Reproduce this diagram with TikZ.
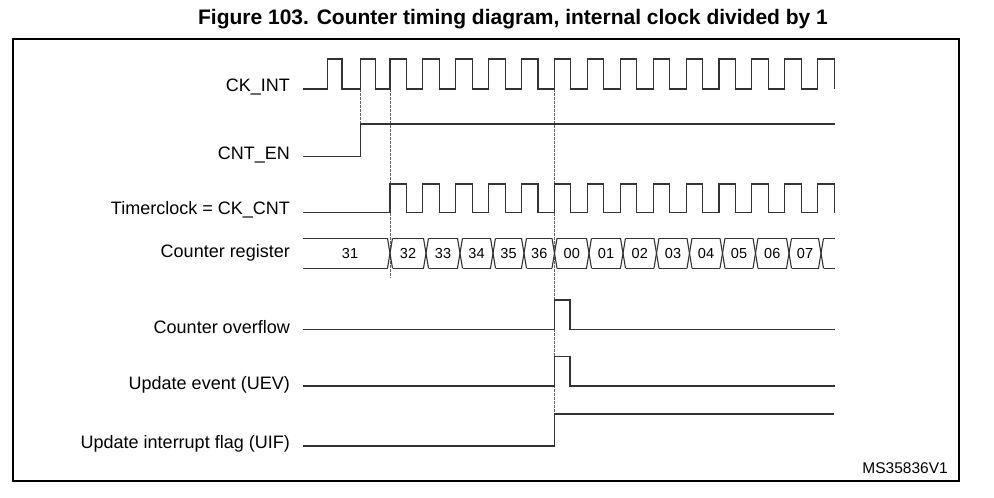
\documentclass[tikz,border=0pt]{standalone}
\usepackage{fontspec}
\setmainfont{Liberation Sans}
\begin{document}
\begin{tikzpicture}[x=1pt,y=-1pt,
  wave/.style={draw=black!80,line width=1.1pt},
  guide/.style={draw=black!60,line width=0.9pt,dash pattern=on 2.5pt off 1.5pt},
  siglabel/.style={anchor=east,inner sep=0pt,font=\fontsize{18}{18}\selectfont},
  busval/.style={inner sep=0pt,font=\fontsize{14.5}{14.5}\selectfont},
  frame/.style={draw=black,line width=2pt}]
\useasboundingbox (0,0) rectangle (994,498);
\fill[white] (0,0) rectangle (994,498);
% frame and title
\draw[frame] (13,39) rectangle (959,481);
\node[inner sep=0pt,font=\bfseries\fontsize{21}{21}\selectfont] (title) at (513,19) {Figure 103. Counter timing diagram, internal clock divided by 1};
\node[inner sep=0pt,anchor=south east,font=\fontsize{15.5}{15.5}\selectfont] (ms) at (948,474) {MS35836V1};
% labels
\node[siglabel] (lckint) at (290,87) {CK\_INT};
\node[siglabel] (lcnten) at (290,155) {CNT\_EN};
\node[siglabel] (ltc) at (290,209.5) {Timerclock = CK\_CNT};
\node[siglabel] (lcr) at (290,253) {Counter register};
\node[siglabel] (lco) at (290,327) {Counter overflow};
\node[siglabel] (luev) at (290,385) {Update event (UEV)};
\node[siglabel] (luif) at (290,444) {Update interrupt flag (UIF)};
% guides
\draw[guide] (360.7,89) -- (360.7,124);
\draw[guide] (390,89) -- (390,278);
\draw[guide] (554.5,89) -- (554.5,446);
% CK_INT
\draw[wave] (303,89) -- (327.7,89) -- (327.7,59) -- (342,59) -- (342,89)
  -- (360.7,89) -- (360.7,59) -- (375.5,59) -- (375.5,89)
  foreach \k in {0,...,13} { -- ({390+\k*32.9},89) -- ({390+\k*32.9},59) -- ({390+\k*32.9+16.4},59) -- ({390+\k*32.9+16.4},89) };
% CNT_EN
\draw[wave] (303,156.7) -- (360.7,156.7) -- (360.7,124) -- (835,124);
% Timerclock
\draw[wave] (303,212.7)
  foreach \k in {0,...,13} { -- ({390+\k*32.9},212.7) -- ({390+\k*32.9},184) -- ({390+\k*32.9+16.4},184) -- ({390+\k*32.9+16.4},212.7) };
% Counter register bus
\def\bt{238.3}\def\bb{268.3}\def\bh{2.5}
\draw[wave] (303,\bt) -- (390-\bh,\bt);
\draw[wave] (303,\bb) -- (390-\bh,\bb);
\foreach \a/\b/\v [count=\i] in {390/426/32,426/460/33,460/493/34,493/524/35,524/554.5/36,554.5/589/00,589/623/01,623/656.5/02,656.5/689.5/03,689.5/722.5/04,722.5/755.5/05,755.5/789/06,789/821/07} {
  \draw[wave] ({\a-\bh},\bt) -- ({\a+\bh},\bb);
  \draw[wave] ({\a-\bh},\bb) -- ({\a+\bh},\bt);
  \draw[wave] ({\a+\bh},\bt) -- ({\b-\bh},\bt);
  \draw[wave] ({\a+\bh},\bb) -- ({\b-\bh},\bb);
  \node[busval] (v\i) at ({(\a+\b)/2},253.3) {\v};
}
\draw[wave] (821-\bh,\bt) -- (821+\bh,\bb);
\draw[wave] (821-\bh,\bb) -- (821+\bh,\bt);
\draw[wave] (821+\bh,\bt) -- (835,\bt);
\draw[wave] (821+\bh,\bb) -- (835,\bb);
\node[busval] (v0) at (350,253.3) {31};
% Counter overflow
\draw[wave] (303,329.5) -- (554.5,329.5) -- (554.5,300) -- (570,300) -- (570,329.5) -- (835,329.5);
% UEV
\draw[wave] (303,386) -- (554.5,386) -- (554.5,356.7) -- (570,356.7) -- (570,386) -- (835,386);
% UIF
\draw[wave] (303,446) -- (554.5,446) -- (554.5,414) -- (834,414);
\end{tikzpicture}
\end{document}
